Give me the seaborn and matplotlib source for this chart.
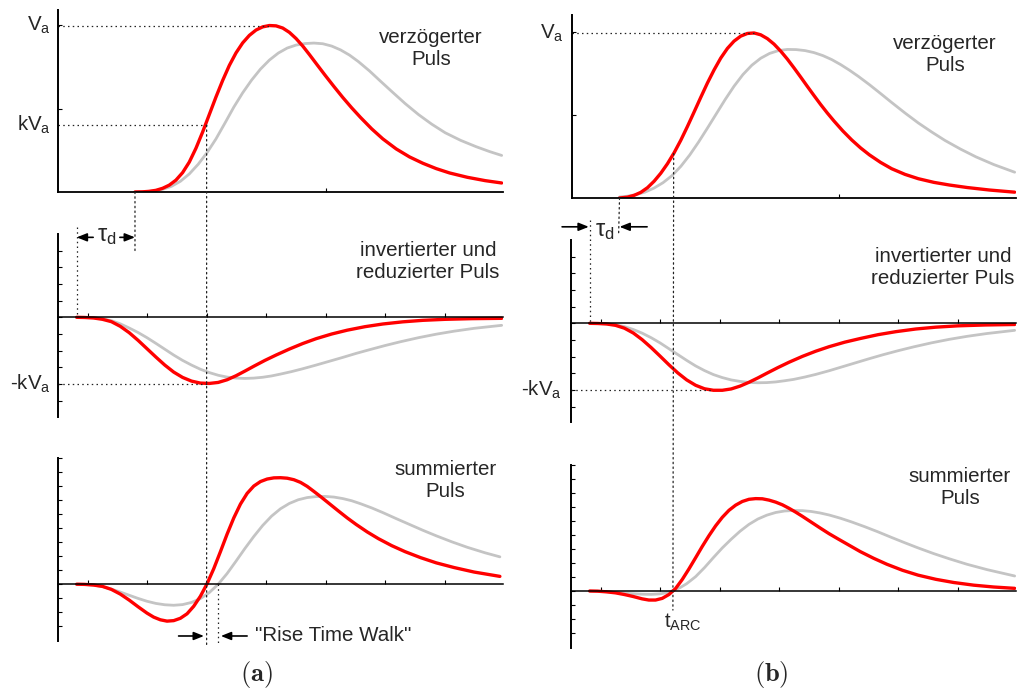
import numpy as np
import pandas as pd
import matplotlib
matplotlib.use("Agg")
import matplotlib.pyplot as plt
import seaborn as sns
from matplotlib.patches import ConnectionPatch

# ---------------- data ----------------
# time axis: 0..100 arbitrary units; amplitude: Va = 1
# column (a): different rise times
A_TOP_FAST_T = [17.3, 19.0, 20.5, 22.0, 23.5, 25.0, 26.5, 28.0, 29.5, 31.0, 32.5, 34.0, 35.5, 37.0, 38.5, 40.0, 41.5, 43.0, 44.5, 46.0, 47.5, 49.0, 50.5, 52.0, 53.5, 55.0, 56.5, 58.0, 60.0, 62.0, 64.0, 66.0, 68.0, 70.5, 73.0, 76.0, 79.0, 82.0, 85.0, 88.0, 92.0, 96.0, 99.7]
A_TOP_FAST_V = [0, 0.001, 0.004, 0.010, 0.022, 0.041, 0.071, 0.116, 0.179, 0.262, 0.359, 0.464, 0.569, 0.668, 0.758, 0.833, 0.893, 0.938, 0.970, 0.989, 0.997, 0.995, 0.982, 0.956, 0.919, 0.874, 0.823, 0.770, 0.700, 0.632, 0.566, 0.504, 0.446, 0.378, 0.318, 0.258, 0.210, 0.172, 0.140, 0.114, 0.088, 0.068, 0.054]
A_TOP_SLOW_T = [17.3, 19.5, 21.5, 23.5, 25.5, 27.5, 29.5, 31.5, 33.5, 35.5, 37.5, 39.5, 41.5, 43.5, 45.5, 47.5, 49.5, 51.5, 53.5, 55.5, 57.5, 59.5, 61.5, 63.5, 65.5, 67.5, 70.0, 72.5, 75.0, 78.0, 81.0, 84.0, 87.0, 90.5, 94.0, 97.0, 99.7]
A_TOP_SLOW_V = [0, 0.002, 0.006, 0.016, 0.034, 0.064, 0.108, 0.166, 0.236, 0.318, 0.412, 0.508, 0.594, 0.670, 0.736, 0.790, 0.832, 0.862, 0.880, 0.889, 0.892, 0.888, 0.874, 0.851, 0.820, 0.781, 0.725, 0.663, 0.602, 0.530, 0.464, 0.406, 0.355, 0.309, 0.271, 0.242, 0.219]

A_MID_FAST_T = [4.2, 6.0, 8.0, 10.0, 12.0, 14.0, 16.0, 18.0, 20.0, 22.0, 24.0, 26.0, 28.0, 30.0, 32.0, 34.0, 36.0, 38.0, 40.0, 42.0, 44.0, 46.5, 49.0, 52.0, 55.0, 58.0, 61.5, 65.0, 69.0, 73.0, 77.5, 82.0, 87.0, 93.0, 99.7]
A_MID_FAST_V = [0, -0.001, -0.004, -0.012, -0.026, -0.054, -0.092, -0.138, -0.188, -0.238, -0.286, -0.328, -0.360, -0.382, -0.394, -0.396, -0.390, -0.374, -0.350, -0.322, -0.293, -0.258, -0.226, -0.190, -0.157, -0.128, -0.100, -0.077, -0.056, -0.040, -0.027, -0.018, -0.012, -0.008, -0.006]
A_MID_SLOW_T = [4.2, 6.0, 8.0, 10.0, 12.0, 14.0, 16.0, 18.0, 20.0, 22.0, 24.0, 26.0, 28.0, 30.0, 32.0, 34.0, 36.0, 38.0, 40.0, 42.0, 44.0, 46.0, 48.0, 50.0, 52.5, 55.0, 58.0, 61.0, 64.0, 67.0, 70.0, 73.5, 77.0, 81.0, 85.0, 89.0, 93.5, 99.7]
A_MID_SLOW_V = [0, -0.001, -0.003, -0.008, -0.020, -0.039, -0.064, -0.091, -0.122, -0.156, -0.191, -0.226, -0.258, -0.286, -0.311, -0.331, -0.347, -0.358, -0.364, -0.366, -0.364, -0.359, -0.351, -0.340, -0.325, -0.308, -0.286, -0.263, -0.240, -0.216, -0.194, -0.169, -0.146, -0.122, -0.101, -0.083, -0.066, -0.048]

A_BOT_FAST_T = [4.2, 6, 8, 10, 12, 14, 16, 18, 20, 21.5, 23, 24.5, 26, 27.5, 29, 30.5, 32, 33.5, 35, 36.5, 38, 39.5, 41, 42.5, 44, 45.5, 47, 48.5, 50, 51.5, 53, 54.5, 56, 57.5, 59, 61, 63, 65, 67, 69.5, 72, 75, 78, 81.5, 85, 89, 93.5, 99.3]
A_BOT_FAST_V = [0, -0.001, -0.005, -0.013, -0.031, -0.059, -0.095, -0.135, -0.173, -0.197, -0.213, -0.221, -0.218, -0.204, -0.177, -0.132, -0.072, 0.003, 0.093, 0.195, 0.300, 0.397, 0.480, 0.544, 0.588, 0.615, 0.630, 0.637, 0.638, 0.635, 0.626, 0.610, 0.586, 0.556, 0.525, 0.482, 0.439, 0.397, 0.358, 0.313, 0.273, 0.231, 0.195, 0.159, 0.128, 0.100, 0.073, 0.047]
A_BOT_SLOW_T = [4.2, 6, 8, 10, 12, 14, 16, 18, 20, 22, 24, 26, 28, 30, 32, 34, 36, 38, 40, 42, 44, 46, 48, 50, 52, 54, 56, 58, 60, 62, 64, 66, 68, 70.5, 73, 76, 79, 82, 85, 88.5, 92, 96, 99.3]
A_BOT_SLOW_V = [0, -0.001, -0.005, -0.014, -0.029, -0.047, -0.066, -0.085, -0.102, -0.115, -0.123, -0.126, -0.122, -0.109, -0.086, -0.050, 0.000, 0.064, 0.138, 0.214, 0.286, 0.352, 0.408, 0.452, 0.484, 0.506, 0.519, 0.525, 0.526, 0.522, 0.513, 0.500, 0.482, 0.457, 0.429, 0.393, 0.358, 0.323, 0.290, 0.254, 0.221, 0.188, 0.164]

# column (b): amplitude and rise time compensated (ARC)
B_TOP_FAST_T = [10.7, 12.5, 14, 15.5, 17, 18.5, 20, 21.5, 23, 24.5, 26, 27.5, 29, 30.5, 32, 33.5, 35, 36.5, 38, 39.5, 41, 42.5, 44, 45.5, 47, 48.5, 50, 51.5, 53, 54.5, 56, 57.5, 59, 61, 63, 65, 67, 69.5, 72, 75, 78, 81.5, 85, 89, 94, 99.7]
B_TOP_FAST_V = [0, 0.005, 0.016, 0.034, 0.062, 0.101, 0.149, 0.206, 0.272, 0.347, 0.430, 0.517, 0.605, 0.691, 0.770, 0.841, 0.899, 0.943, 0.973, 0.989, 0.992, 0.981, 0.958, 0.925, 0.883, 0.835, 0.782, 0.727, 0.671, 0.616, 0.562, 0.511, 0.463, 0.403, 0.349, 0.301, 0.259, 0.214, 0.176, 0.142, 0.116, 0.094, 0.078, 0.063, 0.048, 0.035]
B_TOP_SLOW_T = [10.7, 12.5, 14.5, 16.5, 18.5, 20.5, 22.5, 24.5, 26.5, 28.5, 30.5, 32.5, 34.5, 36.5, 38.5, 40.5, 42.5, 44.5, 46.5, 48.5, 50.5, 52.5, 54.5, 56.5, 58.5, 60.5, 62.5, 64.5, 67, 69.5, 72, 75, 78, 81, 84, 87.5, 91, 95, 99.7]
B_TOP_SLOW_V = [0.006, 0.011, 0.021, 0.036, 0.060, 0.092, 0.134, 0.190, 0.258, 0.336, 0.420, 0.506, 0.592, 0.672, 0.742, 0.798, 0.840, 0.869, 0.886, 0.893, 0.892, 0.886, 0.874, 0.856, 0.832, 0.802, 0.768, 0.731, 0.681, 0.628, 0.574, 0.511, 0.451, 0.397, 0.346, 0.294, 0.247, 0.201, 0.155]

B_MID_FAST_T = [4.2, 6, 8, 10, 12, 14, 16, 18, 20, 22, 24, 26, 28, 30, 32, 34, 36, 38, 40, 42, 44, 46.5, 49, 52, 55, 58, 61.5, 65, 69, 73, 77.5, 82, 87, 93, 99.7]
B_MID_FAST_V = [0, -0.001, -0.004, -0.012, -0.029, -0.058, -0.098, -0.145, -0.196, -0.248, -0.297, -0.339, -0.371, -0.392, -0.401, -0.401, -0.393, -0.376, -0.353, -0.327, -0.299, -0.265, -0.233, -0.198, -0.167, -0.140, -0.113, -0.091, -0.068, -0.050, -0.034, -0.023, -0.015, -0.010, -0.007]
B_MID_SLOW_T = [4.2, 6, 8, 10, 12, 14, 16, 18, 20, 22, 24, 26, 28, 30, 32, 34, 36, 38, 40, 42, 44, 46, 48, 50, 52.5, 55, 58, 61, 64, 67, 70, 73.5, 77, 81, 85, 89, 93.5, 99.7]
B_MID_SLOW_V = [0, -0.001, -0.003, -0.009, -0.020, -0.037, -0.059, -0.086, -0.117, -0.152, -0.187, -0.222, -0.255, -0.283, -0.307, -0.325, -0.339, -0.348, -0.354, -0.356, -0.355, -0.351, -0.344, -0.336, -0.322, -0.306, -0.284, -0.260, -0.236, -0.212, -0.189, -0.164, -0.141, -0.117, -0.096, -0.078, -0.061, -0.042]

B_BOT_FAST_T = [4.2, 6, 8, 10, 12, 14, 16, 17.5, 19, 20.5, 22, 23.5, 25, 26.5, 28, 29.5, 31, 32.5, 34, 35.5, 37, 38.5, 40, 41.5, 43, 44.5, 46, 47.5, 49, 50.5, 52, 54, 56, 58, 60, 62.5, 65, 68, 71, 74.5, 78, 82, 86, 90.5, 95, 99.7]
B_BOT_FAST_V = [0, -0.001, -0.005, -0.011, -0.021, -0.033, -0.047, -0.054, -0.054, -0.044, -0.021, 0.015, 0.069, 0.132, 0.199, 0.267, 0.331, 0.390, 0.441, 0.483, 0.514, 0.536, 0.549, 0.553, 0.552, 0.544, 0.532, 0.516, 0.495, 0.472, 0.447, 0.412, 0.377, 0.343, 0.312, 0.274, 0.236, 0.196, 0.160, 0.124, 0.095, 0.070, 0.051, 0.035, 0.024, 0.016]
B_BOT_SLOW_T = [4.2, 6, 8, 10, 12, 14, 16, 18, 20, 21.5, 23, 24.5, 26, 28, 30, 32, 34, 36, 38, 40, 42, 44, 46, 48, 50, 52, 54, 56, 58, 60.5, 63, 66, 69, 72, 75, 78, 81.5, 85, 89, 93.5, 99.7]
B_BOT_SLOW_V = [0, -0.001, -0.004, -0.008, -0.013, -0.016, -0.019, -0.020, -0.017, -0.010, 0.003, 0.020, 0.044, 0.086, 0.140, 0.200, 0.258, 0.310, 0.358, 0.399, 0.431, 0.454, 0.470, 0.479, 0.482, 0.481, 0.476, 0.467, 0.455, 0.436, 0.414, 0.385, 0.354, 0.321, 0.289, 0.258, 0.224, 0.193, 0.160, 0.128, 0.090]

K_FRACTION = 0.40          # kVa relative to Va
A_START = 4.2              # start of undelayed pulse (a)
A_DELAYED_START = 17.3     # start of delayed pulse (a)
A_ZERO_FAST = 33.4         # zero crossing, fast pulse (a)
A_ZERO_SLOW = 36.0         # zero crossing, slow pulse (a)
B_START = 4.2
B_DELAYED_START = 10.7
T_ARC = 22.9

# ---------------- style ----------------
sns.set_theme(style="white")
plt.rcParams["font.family"] = ["Liberation Sans", "DejaVu Sans"]
plt.rcParams["mathtext.fontset"] = "custom"
plt.rcParams["mathtext.rm"] = "Liberation Sans"
plt.rcParams["mathtext.it"] = "Liberation Sans"
plt.rcParams["mathtext.bf"] = "Liberation Sans:bold"
plt.rcParams["mathtext.fallback"] = "cm"

RED = "#ff0000"
GRAY = "#c4c4c4"
FS = 14.8
DOT = dict(color="#222222", lw=0.9, linestyle=(0, (1.2, 2.6)))

W, H = 1018, 691
fig = plt.figure(figsize=(W / 100, H / 100), dpi=100)
fig.patch.set_facecolor("white")


def add_ax(left, top, right, bottom, ylim, top_panel=False, yticks=None, xticks=None):
    ax = fig.add_axes([left / W, 1 - bottom / H, (right - left) / W, (bottom - top) / H])
    ax.set_facecolor("none")
    ax.set_xlim(0, 100)
    ax.set_ylim(*ylim)
    for s in ("top", "right"):
        ax.spines[s].set_visible(False)
    ax.spines["left"].set_linewidth(1.4)
    ax.spines["left"].set_color("black")
    ax.spines["bottom"].set_color("black")
    if top_panel:
        ax.spines["bottom"].set_linewidth(1.3)
    else:
        ax.spines["bottom"].set_position(("data", 0))
        ax.spines["bottom"].set_linewidth(1.1)
    ax.tick_params(direction="in", length=3, width=0.8, colors="black",
                   left=True, bottom=True, labelleft=False, labelbottom=False)
    ax.set_yticks(yticks)
    ax.set_xticks(xticks)
    ax.grid(False)
    return ax


def draw(ax, tf, vf, ts, vs):
    df = pd.concat([
        pd.DataFrame({"t": ts, "v": vs, "pulse": "slow"}),
        pd.DataFrame({"t": tf, "v": vf, "pulse": "fast"}),
    ], ignore_index=True)
    sns.lineplot(data=df, x="t", y="v", hue="pulse", hue_order=["slow", "fast"],
                 palette={"slow": GRAY, "fast": RED}, estimator=None, sort=False,
                 legend=False, ax=ax, linewidth=2.3)
    for line, lw in zip(ax.get_lines(), (2.0, 2.4)):
        line.set_linewidth(lw)
        line.set_solid_joinstyle("round")
    ax.set_xlabel("")
    ax.set_ylabel("")


XT = [6.69 + 13.37 * k for k in range(7)]
MID_YT = [0.1 * k for k in range(-5, 5)]
BOT_YT = [0.0838 * k for k in range(-3, 10)]

ax_ta = add_ax(58, 10, 503, 192, (0, 1.09), True, [0.5, 1.0], [XT[4]])
ax_ma = add_ax(58, 234, 503, 417, (-0.597, 0.499), False, MID_YT, XT)
ax_ba = add_ax(58, 458, 503, 641, (-0.34, 0.756), False, BOT_YT, XT)
ax_tb = add_ax(572, 15, 1016, 198, (0, 1.10), True, [0.5, 1.0], [XT[4]])
ax_mb = add_ax(571, 240, 1016, 422, (-0.591, 0.499), False, MID_YT, XT)
ax_bb = add_ax(571, 465, 1016, 648, (-0.341, 0.754), False, BOT_YT, XT)

draw(ax_ta, A_TOP_FAST_T, A_TOP_FAST_V, A_TOP_SLOW_T, A_TOP_SLOW_V)
draw(ax_ma, A_MID_FAST_T, A_MID_FAST_V, A_MID_SLOW_T, A_MID_SLOW_V)
draw(ax_ba, A_BOT_FAST_T, A_BOT_FAST_V, A_BOT_SLOW_T, A_BOT_SLOW_V)
draw(ax_tb, B_TOP_FAST_T, B_TOP_FAST_V, B_TOP_SLOW_T, B_TOP_SLOW_V)
draw(ax_mb, B_MID_FAST_T, B_MID_FAST_V, B_MID_SLOW_T, B_MID_SLOW_V)
draw(ax_bb, B_BOT_FAST_T, B_BOT_FAST_V, B_BOT_SLOW_T, B_BOT_SLOW_V)


def vcon(axA, yA, axB, yB, t):
    con = ConnectionPatch(xyA=(t, yA), coordsA=axA.transData,
                          xyB=(t, yB), coordsB=axB.transData, **DOT)
    fig.add_artist(con)


def arrow(ax, x_tail, x_head, y):
    ax.annotate("", xy=(x_head, y), xytext=(x_tail, y), annotation_clip=False,
                arrowprops=dict(arrowstyle="-|>,head_length=0.55,head_width=0.22",
                                color="black", lw=1.2, mutation_scale=11,
                                shrinkA=0, shrinkB=0))


TAU = r"$\tau_{\mathregular{d}}$"

# ---------- column (a) guides ----------
i_pk_a = int(np.argmax(A_TOP_FAST_V))
pk_a, va_a = A_TOP_FAST_T[i_pk_a], A_TOP_FAST_V[i_pk_a]
ax_ta.plot([0, pk_a], [va_a, va_a], clip_on=False, **DOT)
ax_ta.plot([0, A_ZERO_FAST], [K_FRACTION, K_FRACTION], clip_on=False, **DOT)
ax_ma.plot([0, A_ZERO_FAST], [-K_FRACTION, -K_FRACTION], clip_on=False, **DOT)
vcon(ax_ta, K_FRACTION, ax_ba, -0.363, A_ZERO_FAST)
vcon(ax_ta, 0, ax_ma, 0.397, A_DELAYED_START)
ax_ma.plot([A_START, A_START], [0.54, 0], clip_on=False, **DOT)
ax_ba.plot([A_ZERO_SLOW, A_ZERO_SLOW], [0, -0.363], clip_on=False, **DOT)

arrow(ax_ma, 7.9, A_START, 0.479)
arrow(ax_ma, 13.9, A_DELAYED_START, 0.479)
ax_ma.text(10.9, 0.49, TAU, fontsize=17, ha="center", va="center")

arrow(ax_ba, A_ZERO_FAST - 6.3, A_ZERO_FAST - 0.6, -0.31)
arrow(ax_ba, A_ZERO_SLOW + 6.5, A_ZERO_SLOW + 0.6, -0.31)
ax_ba.text(44.3, -0.31, '"Rise Time Walk"', fontsize=FS, ha="left", va="center")

ax_ta.text(-1.6, va_a, r"$V_a$", fontsize=FS, ha="right", va="center")
ax_ta.text(-1.6, K_FRACTION, r"$kV_a$", fontsize=FS, ha="right", va="center")
ax_ma.text(-1.6, -K_FRACTION, r"-$kV_a$", fontsize=FS, ha="right", va="center")

ax_ta.text(83.8, 0.862, "verzögerter\nPuls", fontsize=FS, ha="center", va="center",
           multialignment="center", linespacing=1.2)
ax_ma.text(83.1, 0.337, "invertierter und\nreduzierter Puls", fontsize=FS, ha="center",
           va="center", multialignment="center", linespacing=1.2)
ax_ba.text(87.0, 0.619, "summierter\nPuls", fontsize=FS, ha="center", va="center",
           multialignment="center", linespacing=1.2)

# ---------- column (b) guides ----------
i_pk_b = int(np.argmax(B_TOP_FAST_V))
pk_b, va_b = B_TOP_FAST_T[i_pk_b], B_TOP_FAST_V[i_pk_b]
mn_b = B_MID_FAST_T[int(np.argmin(B_MID_FAST_V))]
ax_tb.plot([0, pk_b], [va_b, va_b], clip_on=False, **DOT)
ax_mb.plot([0, mn_b], [-K_FRACTION, -K_FRACTION], clip_on=False, **DOT)
y_arc_top = float(np.interp(T_ARC, B_TOP_FAST_T, B_TOP_FAST_V))
vcon(ax_tb, y_arc_top, ax_bb, -0.114, T_ARC)
vcon(ax_tb, 0, ax_mb, 0.529, B_DELAYED_START)
ax_mb.plot([B_START, B_START], [0.619, 0], clip_on=False, **DOT)

arrow(ax_mb, -2.0, B_START - 0.2, 0.578)
arrow(ax_mb, 17.1, B_DELAYED_START + 0.2, 0.578)
ax_mb.text(7.5, 0.555, TAU, fontsize=17, ha="center", va="center")

ax_tb.text(-1.8, va_b, r"$V_a$", fontsize=FS, ha="right", va="center")
ax_mb.text(-2.0, -K_FRACTION, r"-$kV_a$", fontsize=FS, ha="right", va="center")
ax_bb.text(21.0, -0.19, r"$t_{ARC}$", fontsize=FS, ha="left", va="center")

ax_tb.text(84.0, 0.861, "verzögerter\nPuls", fontsize=FS, ha="center", va="center",
           multialignment="center", linespacing=1.2)
ax_mb.text(83.6, 0.337, "invertierter und\nreduzierter Puls", fontsize=FS, ha="center",
           va="center", multialignment="center", linespacing=1.2)
ax_bb.text(87.4, 0.617, "summierter\nPuls", fontsize=FS, ha="center", va="center",
           multialignment="center", linespacing=1.2)

# ---------- sub-figure labels ----------
fig.text(256 / W, 1 - 675 / H, r"$\mathbf{(a)}$", math_fontfamily="cm", fontsize=19,
         ha="center", va="center")
fig.text(771 / W, 1 - 675 / H, r"$\mathbf{(b)}$", math_fontfamily="cm", fontsize=19,
         ha="center", va="center")

fig.savefig("out.png", dpi=100, facecolor="white")
